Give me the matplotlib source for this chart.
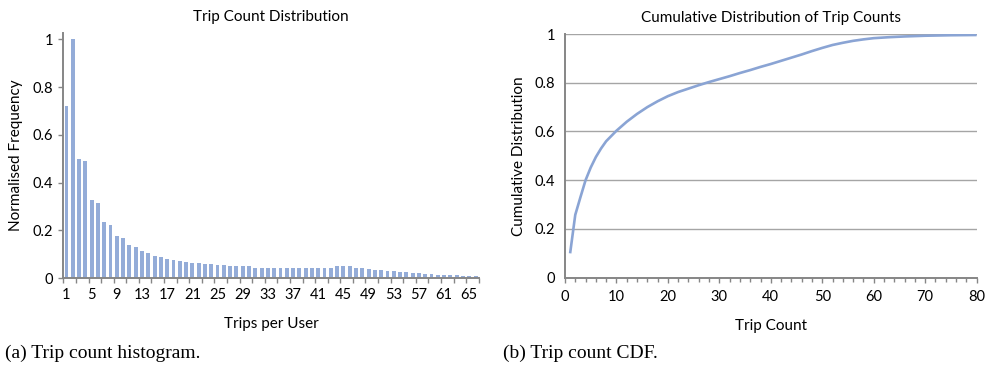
import numpy as np
import matplotlib
matplotlib.use("Agg")
import matplotlib.pyplot as plt
from matplotlib.ticker import FixedLocator, MultipleLocator

plt.rcParams["font.family"] = ["Lato", "DejaVu Sans"]

# ---- data ----
trips = list(range(1, 67))
norm_freq = [
    0.721, 1.000, 0.499, 0.490, 0.326, 0.314, 0.236, 0.222, 0.176, 0.167,
    0.139, 0.131, 0.113, 0.105, 0.095, 0.089, 0.081, 0.077, 0.073, 0.068,
    0.064, 0.064, 0.060, 0.060, 0.055, 0.055, 0.050, 0.050, 0.050, 0.050,
    0.045, 0.045, 0.045, 0.045, 0.045, 0.045, 0.045, 0.045, 0.045, 0.045,
    0.045, 0.045, 0.045, 0.050, 0.050, 0.050, 0.045, 0.045, 0.040, 0.036,
    0.035, 0.031, 0.031, 0.027, 0.026, 0.022, 0.022, 0.018, 0.018, 0.014,
    0.014, 0.014, 0.013, 0.009, 0.009, 0.008,
]
hist_labels = list(range(1, 67, 4))

cdf_x = [1, 2, 3, 4, 5, 6, 7, 8, 10, 12, 14, 16, 18, 20, 22, 24, 26, 28, 30,
         32, 34, 36, 38, 40, 42, 44, 46, 48, 50, 52, 54, 56, 58, 60, 63, 66,
         70, 75, 80]
cdf_y = [0.100, 0.258, 0.330, 0.400, 0.452, 0.495, 0.530, 0.560, 0.603, 0.640,
         0.672, 0.700, 0.724, 0.745, 0.762, 0.776, 0.790, 0.803, 0.815, 0.827,
         0.840, 0.852, 0.865, 0.877, 0.890, 0.903, 0.916, 0.930, 0.943, 0.955,
         0.964, 0.972, 0.978, 0.983, 0.987, 0.990, 0.993, 0.995, 0.996]

AXIS_GREY = "#868686"
GRID_GREY = "#a5a5a5"
BAR_BLUE = "#94acd8"
LINE_BLUE = "#8aa4d4"

fig = plt.figure(figsize=(9.91, 3.67), dpi=100)

# ---- (a) histogram ----
ax = fig.add_axes([0.0639, 0.2417, 0.4192, 0.6683])
ax.bar(trips, norm_freq, width=0.62, color=BAR_BLUE, edgecolor="none")
ax.set_xlim(0.5, 66.5)
ax.set_ylim(0, 1.026)
for s in ("top", "right"):
    ax.spines[s].set_visible(False)
for s in ("left", "bottom"):
    ax.spines[s].set_color(AXIS_GREY)
    ax.spines[s].set_linewidth(1.4)
ax.set_yticks([0, 0.2, 0.4, 0.6, 0.8, 1.0])
ax.set_yticklabels(["0", "0.2", "0.4", "0.6", "0.8", "1"])
ax.xaxis.set_major_locator(FixedLocator(hist_labels))
ax.set_xticklabels([str(v) for v in hist_labels])
ax.xaxis.set_minor_locator(FixedLocator(np.arange(0.5, 67, 2)))
ax.tick_params(axis="x", which="major", length=0, pad=7, labelsize=10.5)
ax.tick_params(axis="x", which="minor", length=3.5, color=AXIS_GREY, width=1)
ax.tick_params(axis="y", length=3.5, color=AXIS_GREY, width=1, pad=4, labelsize=10.5)
ax.set_title("Trip Count Distribution", fontsize=11, pad=9)
ax.set_xlabel("Trips per User", fontsize=11, labelpad=11)
ax.set_ylabel("Normalised Frequency", fontsize=11, labelpad=7)

# ---- (b) CDF ----
ax2 = fig.add_axes([0.5701, 0.2433, 0.4154, 0.664])
ax2.plot(cdf_x, cdf_y, color=LINE_BLUE, lw=1.9, solid_capstyle="butt")
ax2.set_xlim(0, 80)
ax2.set_ylim(0, 1)
for s in ("top", "right"):
    ax2.spines[s].set_visible(False)
for s in ("left", "bottom"):
    ax2.spines[s].set_color(AXIS_GREY)
    ax2.spines[s].set_linewidth(1.4)
ax2.set_yticks([0, 0.2, 0.4, 0.6, 0.8, 1.0])
ax2.set_yticklabels(["0", "0.2", "0.4", "0.6", "0.8", "1"])
ax2.yaxis.grid(True, color=GRID_GREY, lw=1)
ax2.set_axisbelow(True)
ax2.xaxis.set_major_locator(MultipleLocator(10))
ax2.xaxis.set_minor_locator(MultipleLocator(2))
ax2.tick_params(axis="x", which="major", length=3.5, color=AXIS_GREY, width=1, pad=5, labelsize=10.5)
ax2.tick_params(axis="x", which="minor", length=3, color=AXIS_GREY, width=1)
ax2.tick_params(axis="y", length=0, pad=7, labelsize=10.5)
ax2.set_title("Cumulative Distribution of Trip Counts", fontsize=11, pad=9)
ax2.set_xlabel("Trip Count", fontsize=11, labelpad=11)
ax2.set_ylabel("Cumulative Distribution", fontsize=11, labelpad=6)

# ---- captions ----
fig.text(0.005, 0.025, "(a) Trip count histogram.", family="Liberation Serif", fontsize=14)
fig.text(0.508, 0.025, "(b) Trip count CDF.", family="Liberation Serif", fontsize=14)

fig.savefig("out.png", dpi=100)
